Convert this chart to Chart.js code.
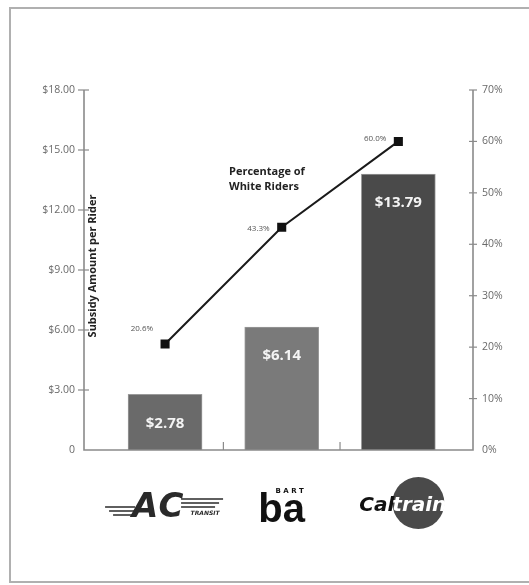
<!DOCTYPE html>
<html>
<head>
<meta charset="utf-8">
<script src="https://cdn.jsdelivr.net/npm/chart.js@4/dist/chart.umd.min.js"></script>
<style>
html,body{margin:0;padding:0;background:#fff;}
#wrap{position:relative;width:529px;height:585px;}
</style>
</head>
<body>
<div id="wrap"><canvas id="c" width="529" height="585"></canvas></div>
<script>
// ---- data ----
const categories = ["AC Transit", "BART", "Caltrain"];
const subsidyPerRider = [2.78, 6.14, 13.79];
const pctWhiteRiders = [20.6, 43.3, 60.0];
const subsidyTicks = [0, 3, 6, 9, 12, 15, 18];
const pctTicks = [0, 10, 20, 30, 40, 50, 60, 70];
const barColors = ["#6a6a6a", "#7a7a7a", "#4a4a4a"];

const positions = categories.map((_, i) => i);

const decor = {
  id: 'decor',
  beforeDraw(chart) {
    const ctx = chart.ctx;
    ctx.save();
    ctx.fillStyle = '#fff';
    ctx.fillRect(0, 0, chart.width, chart.height);
    ctx.strokeStyle = '#b0b0b0';
    ctx.lineWidth = 2;
    ctx.strokeRect(10, 8, 540, 574);
    ctx.restore();
  },
  afterDatasetsDraw(chart) {
    const ctx = chart.ctx;
    const x = chart.scales.x, y = chart.scales.y, y1 = chart.scales.y1;
    const ca = chart.chartArea;
    ctx.save();
    ctx.strokeStyle = '#8a8a8a';
    ctx.lineWidth = 1.6;
    ctx.beginPath();
    ctx.moveTo(ca.left, ca.top); ctx.lineTo(ca.left, ca.bottom);
    ctx.lineTo(ca.right, ca.bottom); ctx.lineTo(ca.right, ca.top);
    ctx.stroke();
    ctx.lineWidth = 1.2;
    subsidyTicks.forEach(v => {
      if (v === 0) return;
      const py = y.getPixelForValue(v);
      ctx.beginPath(); ctx.moveTo(ca.left - 6, py); ctx.lineTo(ca.left + 5, py); ctx.stroke();
    });
    pctTicks.forEach(v => {
      if (v === 0) return;
      const py = y1.getPixelForValue(v);
      ctx.beginPath(); ctx.moveTo(ca.right - 4, py); ctx.lineTo(ca.right + 4, py); ctx.stroke();
    });
    for (let i = 0; i < categories.length - 1; i++) {
      const px = x.getPixelForValue(i + 0.5);
      ctx.beginPath(); ctx.moveTo(px, ca.bottom); ctx.lineTo(px, ca.bottom - 8); ctx.stroke();
    }
    ctx.restore();
  },
  afterDraw(chart) {
    const ctx = chart.ctx;
    const x = chart.scales.x, y = chart.scales.y, y1 = chart.scales.y1;
    const ca = chart.chartArea;
    ctx.save();
    // bar value labels
    ctx.fillStyle = '#f4f4f4';
    ctx.font = 'bold 15px "Open Sans"';
    ctx.textAlign = 'center';
    ctx.textBaseline = 'middle';
    subsidyPerRider.forEach((v, i) => {
      ctx.fillText('$' + v.toFixed(2), x.getPixelForValue(i), y.getPixelForValue(v) + 29);
    });
    // point labels
    ctx.fillStyle = '#555';
    ctx.font = '8px "Open Sans"';
    ctx.textAlign = 'right';
    const dy = [-15, 1, -3];
    pctWhiteRiders.forEach((v, i) => {
      ctx.fillText(v.toFixed(1) + '%', x.getPixelForValue(i) - 12, y1.getPixelForValue(v) + dy[i]);
    });
    // line annotation
    ctx.fillStyle = '#222';
    ctx.font = 'bold 11px "Open Sans"';
    ctx.textAlign = 'left';
    ctx.fillText('Percentage of', 229, 172);
    ctx.fillText('White Riders', 229, 187);
    // y title
    ctx.save();
    ctx.translate(ca.left + 9, 266);
    ctx.rotate(-Math.PI / 2);
    ctx.textAlign = 'center';
    ctx.font = 'bold 11px "Open Sans"';
    ctx.fillText('Subsidy Amount per Rider', 0, 0);
    ctx.restore();

    // logos
    const ly = 503;
    // AC Transit
    let cx = x.getPixelForValue(0);
    ctx.save();
    ctx.fillStyle = '#2a2a2a';
    ctx.strokeStyle = '#2a2a2a';
    ctx.lineWidth = 1.5;
    ctx.font = 'italic bold 34px "DejaVu Sans"';
    ctx.textAlign = 'center';
    ctx.textBaseline = 'alphabetic';
    ctx.fillText('A', cx - 20, ly + 14);
    ctx.fillText('C', cx + 6, ly + 14);
    for (let k = 0; k < 3; k++) {
      ctx.beginPath();
      ctx.moveTo(cx - 60 + k * 4, ly + 4 + k * 4);
      ctx.lineTo(cx - 30, ly + 4 + k * 4);
      ctx.stroke();
      ctx.beginPath();
      ctx.moveTo(cx + 16, ly - 4 + k * 4);
      ctx.lineTo(cx + 58 - k * 4, ly - 4 + k * 4);
      ctx.stroke();
    }
    ctx.font = 'italic bold 6px "DejaVu Sans"';
    ctx.fillText('TRANSIT', cx + 40, ly + 12);
    ctx.restore();

    // BART
    cx = x.getPixelForValue(1);
    ctx.save();
    ctx.fillStyle = '#111';
    ctx.textAlign = 'center';
    ctx.font = 'bold 7px "DejaVu Sans"';
    ctx.fillText('B A R T', cx + 8, ly - 12);
    ctx.font = 'bold 40px "Liberation Sans"';
    ctx.textBaseline = 'alphabetic';
    ctx.fillText('ba', cx, ly + 19);
    ctx.restore();

    // Caltrain
    cx = x.getPixelForValue(2);
    ctx.save();
    ctx.fillStyle = '#4a4a4a';
    ctx.beginPath();
    ctx.arc(cx + 20, ly, 26, 0, Math.PI * 2);
    ctx.fill();
    ctx.font = 'italic bold 20px "DejaVu Sans"';
    ctx.textBaseline = 'alphabetic';
    const joinX = cx - 5;
    ctx.fillStyle = '#111';
    ctx.textAlign = 'right';
    ctx.fillText('Cal', joinX + 1, ly + 8);
    ctx.fillStyle = '#fff';
    ctx.textAlign = 'left';
    ctx.fillText('train', joinX - 1, ly + 8);
    ctx.restore();

    ctx.restore();
  }
};

new Chart(document.getElementById('c'), {
  data: {
    datasets: [
      {
        type: 'line',
        label: 'Percentage of White Riders',
        data: positions.map((p, i) => ({ x: p, y: pctWhiteRiders[i] })),
        yAxisID: 'y1',
        borderColor: '#1a1a1a',
        borderWidth: 2,
        pointStyle: 'rect',
        pointRadius: 5,
        pointBackgroundColor: '#111',
        pointBorderColor: '#111',
        tension: 0,
        order: 0
      },
      {
        type: 'bar',
        label: 'Subsidy Amount per Rider',
        data: positions.map((p, i) => ({ x: p, y: subsidyPerRider[i] })),
        yAxisID: 'y',
        backgroundColor: barColors,
        borderColor: '#9a9a9a',
        borderWidth: 1,
        barThickness: 74,
        order: 1
      }
    ]
  },
  options: {
    responsive: false,
    animation: false,
    events: [],
    layout: { padding: { top: 90, left: 0, right: 0, bottom: 0 } },
    plugins: { legend: { display: false }, tooltip: { enabled: false } },
    scales: {
      x: {
        type: 'linear',
        offset: false,
        min: -0.695,
        max: 2.64,
        grid: { display: false, drawTicks: false },
        border: { display: false },
        ticks: { display: false },
        afterFit: s => { s.height = 135; }
      },
      y: {
        position: 'left',
        min: 0,
        max: 18,
        grid: { display: false, drawTicks: false },
        border: { display: false },
        afterBuildTicks: s => { s.ticks = subsidyTicks.map(v => ({ value: v })); },
        ticks: {
          padding: 9,
          color: '#6a6a6a',
          font: { family: '"Open Sans"', size: 10.5 },
          callback: v => v === 0 ? '0' : '$' + v.toFixed(2)
        },
        afterFit: s => { s.width = 84; }
      },
      y1: {
        position: 'right',
        min: 0,
        max: 70,
        grid: { display: false, drawTicks: false },
        border: { display: false },
        afterBuildTicks: s => { s.ticks = pctTicks.map(v => ({ value: v })); },
        ticks: {
          padding: 9,
          color: '#6a6a6a',
          font: { family: '"Open Sans"', size: 10.5 },
          callback: v => v + '%'
        },
        afterFit: s => { s.width = 56; }
      }
    }
  },
  plugins: [decor]
});
</script>
</body>
</html>
